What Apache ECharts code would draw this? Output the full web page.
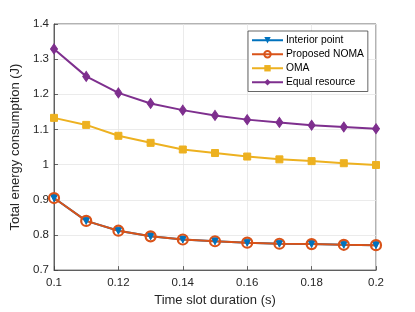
<!DOCTYPE html>
<html><head><meta charset="utf-8">
<script src="https://cdn.jsdelivr.net/npm/echarts@6/dist/echarts.min.js"></script>
<style>html,body{margin:0;padding:0;background:#fff}#c{width:415px;height:312px}</style>
</head><body><div id="c"></div>
<script>
const xValues = [0.10,0.11,0.12,0.13,0.14,0.15,0.16,0.17,0.18,0.19,0.20];
const interiorPoint = [0.905,0.840,0.812,0.796,0.787,0.782,0.778,0.775,0.774,0.772,0.771];
const proposedNOMA = [0.905,0.840,0.812,0.796,0.787,0.782,0.778,0.775,0.774,0.772,0.771];
const oma = [1.133,1.113,1.082,1.062,1.043,1.033,1.023,1.015,1.010,1.004,0.999];
const equalResource = [1.329,1.251,1.204,1.174,1.155,1.140,1.128,1.120,1.112,1.107,1.102];
const seriesNames = ['Interior point','Proposed NOMA','OMA','Equal resource'];
const xTitle = 'Time slot duration (s)';
const yTitle = 'Total energy consumption (J)';

const F = 'Liberation Sans, Arial, Helvetica, sans-serif';
const pairs = a => a.map((v,i)=>[xValues[i], v]);
const fmt = v => (+v.toFixed(4)).toString();

const chart = echarts.init(document.getElementById('c'), null, {renderer:'canvas'});
const axisLine = {show:true, onZero:false, lineStyle:{color:'#404040', width:0.8}};
const axisTick = {show:true, inside:true, length:4, lineStyle:{color:'#404040', width:0.8}};
const splitLine = {show:true, lineStyle:{color:'#e6e6e6', width:0.8}};
const nameTextStyle = {color:'#262626', fontFamily:F, fontSize:13};
chart.setOption({
  animation:false,
  backgroundColor:'#fff',
  grid:{left:54, right:39, top:24, bottom:38, show:true, borderColor:'#404040', borderWidth:0.8, backgroundColor:'#fff'},
  xAxis:{type:'value', min:0.1, max:0.2, interval:0.02, name:xTitle, nameLocation:'middle', nameGap:22,
    axisLine, axisTick, splitLine, nameTextStyle,
    axisLabel:{color:'#262626', fontFamily:F, fontSize:11.5, margin:7, formatter:fmt}},
  yAxis:{type:'value', min:0.7, max:1.4, interval:0.1, name:yTitle, nameLocation:'middle', nameGap:26,
    axisLine, axisTick, splitLine, nameTextStyle,
    axisLabel:{color:'#262626', fontFamily:F, fontSize:11.5, margin:5, formatter:fmt}},
  legend:{
    show:true, orient:'vertical', left:248, top:31, itemWidth:31, itemHeight:8, itemGap:1.5,
    padding:[3,4,3,3], backgroundColor:'#fff', borderColor:'#404040', borderWidth:0.8, borderRadius:0,
    textStyle:{color:'#000', fontFamily:F, fontSize:10.3, lineHeight:12.5, padding:[0,0,0,-2]},
    data:seriesNames
  },
  series:[
    {name:seriesNames[0], type:'line', data:pairs(interiorPoint), symbol:'triangle', symbolRotate:180, symbolSize:7,
      lineStyle:{color:'#0072BD', width:2}, itemStyle:{color:'#0072BD', borderColor:'#0072BD'}},
    {name:seriesNames[1], type:'line', data:pairs(proposedNOMA), symbol:'circle', symbolSize:10,
      lineStyle:{color:'#D95319', width:2}, itemStyle:{color:'rgba(0,0,0,0)', borderColor:'#D95319', borderWidth:2.2}},
    {name:seriesNames[2], type:'line', data:pairs(oma), symbol:'rect', symbolSize:7,
      lineStyle:{color:'#EDB120', width:2}, itemStyle:{color:'#EDB120', borderColor:'#EDB120'}},
    {name:seriesNames[3], type:'line', data:pairs(equalResource), symbol:'diamond', symbolSize:[7,10],
      lineStyle:{color:'#7E2F8E', width:2}, itemStyle:{color:'#7E2F8E', borderColor:'#7E2F8E'}}
  ]
});
</script></body></html>
